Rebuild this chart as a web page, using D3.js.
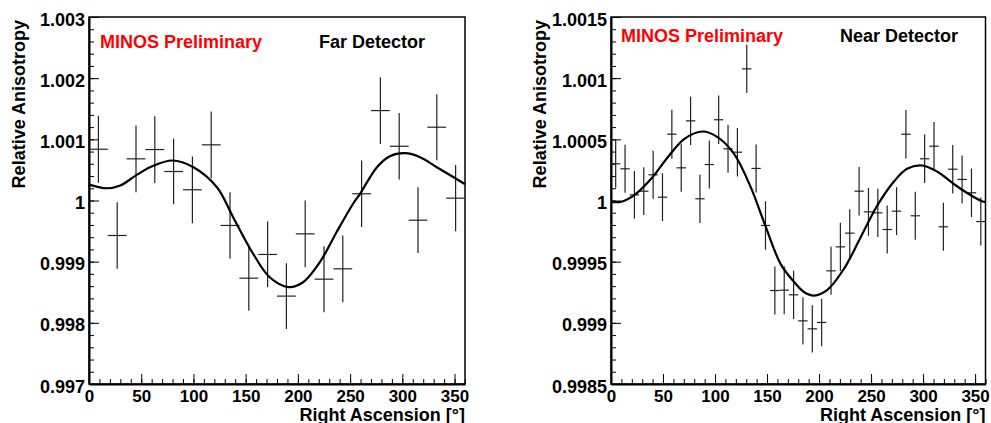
<!DOCTYPE html>
<html>
<head>
<meta charset="utf-8">
<script src="https://cdn.jsdelivr.net/npm/d3@7"></script>
<style>
  body { margin: 0; background: #fff; }
  text { font-family: 'Liberation Sans', Arial, Helvetica, sans-serif; font-weight: bold; }
</style>
</head>
<body>
<svg id="chart"></svg>
<script>
// far detector: 20 bins in right ascension
const farRA = [9, 27, 45, 63, 81, 99, 117, 135, 153, 171, 189, 207, 225, 243, 261, 279, 297, 315, 333, 351];
const farVal = [1.000838, 0.999428, 1.000681, 1.000833, 1.000474, 1.000175, 1.00091, 0.999592, 0.99873, 0.999118,
  0.998437, 0.999455, 0.998714, 0.998883, 1.00011, 1.00147, 1.000887, 0.999678, 1.001198, 1.000038];
const farErr = [0.000548, 0.000542, 0.000545, 0.000545, 0.000537, 0.000545, 0.000545, 0.000542, 0.000532, 0.000537,
  0.000537, 0.000545, 0.00054, 0.000545, 0.000545, 0.000545, 0.000542, 0.000537, 0.00054, 0.000542];
// fitted curve
const farFitRA = [0, 17, 30, 45, 60, 80, 100, 122.5, 138, 157, 173, 191, 205, 221, 237, 253, 259.5, 275.7, 288, 302.5, 317, 333, 357, 360];
const farFitVal = [1.00026, 1.0002, 1.000245, 1.00041, 1.000556, 1.000654, 1.000544, 1.000217, 0.999727, 0.999134,
  0.998746, 0.998585, 0.998664, 0.998991, 0.999482, 0.999951, 1.00011, 1.000544, 1.000724, 1.000773, 1.000708,
  1.000544, 1.000299, 1.00027];
const farTicks = [0.997, 0.998, 0.999, 1, 1.001, 1.002, 1.003];
const farTickLabels = ['0.997', '0.998', '0.999', '1', '1.001', '1.002', '1.003'];

// near detector: 40 bins in right ascension
const nearRA = [4.5, 13.5, 22.5, 31.5, 40.5, 49.5, 58.5, 67.5, 76.5, 85.5, 94.5, 103.5, 112.5, 121.5, 130.5, 139.5,
  148.5, 157.5, 166.5, 175.5, 184.5, 193.5, 202.5, 211.5, 220.5, 229.5, 238.5, 247.5, 256.5, 265.5, 274.5, 283.5,
  292.5, 301.5, 310.5, 319.5, 328.5, 337.5, 346.5, 355.5];
const nearVal = [1.0003, 1.000259, 1.000046, 1.000076, 1.00021, 1.000027, 1.000542, 1.000267, 1.000651, 1.000014,
  1.000294, 1.00066, 1.000422, 1.000395, 1.001076, 1.000262, 0.999796, 0.999264, 0.999267, 0.999229,
  0.999016, 0.998951, 0.999003, 0.999425, 0.999621, 0.999733, 1.000076, 0.999907, 0.999899, 0.999763,
  0.999913, 1.000542, 0.999875, 1.000341, 1.000444, 0.999785, 1.000256, 1.000172, 1.000063, 0.999828];
const nearErr = [0.000195, 0.000196, 0.000195, 0.000195, 0.000196, 0.000196, 0.0002, 0.000196, 0.000198, 0.000198,
  0.000196, 0.000198, 0.000196, 0.000198, 0.000198, 0.000196, 0.000198, 0.000196, 0.000196, 0.000198,
  0.000194, 0.000193, 0.000194, 0.000196, 0.000198, 0.000196, 0.000198, 0.000196, 0.000198, 0.000196,
  0.000196, 0.000198, 0.000196, 0.000198, 0.000198, 0.000196, 0.000198, 0.000196, 0.000198, 0.000196];
const nearFitRA = [0, 10, 22.7, 38.6, 54.6, 70.6, 88, 102.4, 118.3, 134.3, 147.1, 163, 176.2, 185.8, 195.3, 208, 224,
  240, 256, 272, 284.6, 299, 313.4, 329.4, 342, 356.5, 360];
const nearFitVal = [0.999988, 0.99999, 1.000046, 1.000177, 1.000354, 1.000504, 1.000564, 1.000518, 1.000381, 1.000109,
  0.999823, 0.999482, 0.999332, 0.99925, 0.999223, 0.99927, 0.999442, 0.9997, 0.999959, 1.000155, 1.000259,
  1.000286, 1.000237, 1.000136, 1.000063, 0.999994, 0.999988];
const nearTicks = [0.9985, 0.999, 0.9995, 1, 1.0005, 1.001, 1.0015];
const nearTickLabels = ['0.9985', '0.999', '0.9995', '1', '1.0005', '1.001', '1.0015'];

const raTicks = [0, 50, 100, 150, 200, 250, 300, 350];
const raTickLabels = ['0', '50', '100', '150', '200', '250', '300', '350'];

const width = 991;
const height = 423;
const svg = d3.select('#chart').attr('width', width).attr('height', height);

function drawPanel(p) {
  const g = svg.append('g');
  const x = d3.scaleLinear().domain([0, 360]).range([p.left, p.right]);
  const y = d3.scaleLinear().domain([p.yTicks[0], p.yTicks[p.yTicks.length - 1]]).range([p.bottom, p.top]);

  // frame
  g.append('rect')
    .attr('x', p.left)
    .attr('y', p.top)
    .attr('width', p.right - p.left)
    .attr('height', p.bottom - p.top)
    .style('fill', 'none')
    .style('stroke', '#000')
    .style('stroke-width', 1.5);

  // y axis, ticks pointing into the frame
  g.append('g')
    .attr('transform', `translate(${p.left},0)`)
    .call(d3.axisLeft(y).tickValues(y.ticks(30)).tickSize(-5).tickFormat(''))
    .call((s) => s.select('.domain').remove());
  const yAx = g.append('g')
    .attr('transform', `translate(${p.left},0)`)
    .call(d3.axisLeft(y).tickValues(p.yTicks).tickSizeInner(-10).tickSizeOuter(0).tickPadding(4)
      .tickFormat((d, i) => p.yLabels[i]));
  yAx.selectAll('text').attr('dy', '0.45em').style('font-size', '18px').style('fill', '#000');
  yAx.select('.domain').style('stroke-width', 2);

  // x axis
  g.append('g')
    .attr('transform', `translate(0,${p.bottom})`)
    .call(d3.axisBottom(x).tickValues(x.ticks(36)).tickSize(-5).tickFormat(''))
    .call((s) => s.select('.domain').remove());
  const xAx = g.append('g')
    .attr('transform', `translate(0,${p.bottom})`)
    .call(d3.axisBottom(x).tickValues(raTicks).tickSizeInner(-10).tickSizeOuter(0).tickPadding(5.5)
      .tickFormat((d, i) => raTickLabels[i]));
  xAx.selectAll('text').style('font-size', '17px').style('fill', '#000');
  xAx.select('.domain').style('stroke-width', 2);

  // error bars
  const pts = p.ra.map((ra, i) => ({ ra: ra, v: p.val[i], e: p.err[i] }));
  const bars = g.append('g').style('stroke', '#222').style('stroke-width', 1.2);
  bars.selectAll('line.v')
    .data(pts)
    .enter()
    .append('line')
    .attr('class', 'v')
    .attr('x1', (d) => x(d.ra))
    .attr('x2', (d) => x(d.ra))
    .attr('y1', (d) => y(d.v - d.e))
    .attr('y2', (d) => y(d.v + d.e));
  bars.selectAll('line.h')
    .data(pts)
    .enter()
    .append('line')
    .attr('class', 'h')
    .attr('x1', (d) => x(d.ra - p.halfBin))
    .attr('x2', (d) => x(d.ra + p.halfBin))
    .attr('y1', (d) => y(d.v))
    .attr('y2', (d) => y(d.v));

  // fit
  const fit = p.fitRA.map((ra, i) => [ra, p.fitVal[i]]);
  g.append('path')
    .datum(fit)
    .attr('d', d3.line().x((d) => x(d[0])).y((d) => y(d[1])).curve(d3.curveCatmullRom))
    .style('fill', 'none')
    .style('stroke', '#000')
    .style('stroke-width', 2.2);

  // labels
  g.append('text')
    .attr('x', p.prelimX)
    .attr('y', p.labelY)
    .text('MINOS Preliminary')
    .style('fill', '#ff0000')
    .style('font-size', '18px');
  g.append('text')
    .attr('x', p.detX)
    .attr('y', p.labelY)
    .text(p.detector)
    .style('fill', '#000')
    .style('font-size', '18px');

  // axis titles
  g.append('text')
    .attr('transform', `translate(${p.yTitleX},${p.top + 3}) rotate(-90)`)
    .attr('text-anchor', 'end')
    .text('Relative Anisotropy')
    .style('font-size', '18px');
  g.append('text')
    .attr('x', p.right)
    .attr('y', 420.5)
    .attr('text-anchor', 'end')
    .text('Right Ascension [°]')
    .style('font-size', '18px');
}

drawPanel({
  left: 89, right: 465, top: 17, bottom: 384,
  yTicks: farTicks, yLabels: farTickLabels,
  ra: farRA, val: farVal, err: farErr, halfBin: 9,
  fitRA: farFitRA, fitVal: farFitVal,
  detector: 'Far Detector', prelimX: 100, detX: 319, labelY: 48, yTitleX: 25
});

drawPanel({
  left: 611, right: 985.5, top: 17, bottom: 384,
  yTicks: nearTicks, yLabels: nearTickLabels,
  ra: nearRA, val: nearVal, err: nearErr, halfBin: 4.5,
  fitRA: nearFitRA, fitVal: nearFitVal,
  detector: 'Near Detector', prelimX: 621, detX: 840, labelY: 42, yTitleX: 546
});
</script>
</body>
</html>
